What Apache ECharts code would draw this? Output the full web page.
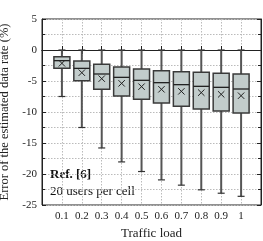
<!DOCTYPE html>
<html><head><meta charset="utf-8">
<script src="https://cdn.jsdelivr.net/npm/echarts@6/dist/echarts.min.js"></script>
<style>html,body{margin:0;padding:0;background:#fff}#c{width:263px;height:241px}</style>
</head><body><div id="c"></div>
<script>
const loads = ['0.1','0.2','0.3','0.4','0.5','0.6','0.7','0.8','0.9','1'];
const whiskerLow = [-7.5,-12.5,-15.8,-18.05,-19.6,-20.95,-21.8,-22.55,-23.1,-23.6];
const q1 = [-2.96,-4.95,-6.34,-7.42,-7.96,-8.55,-9.08,-9.52,-9.84,-10.16];
const median = [-1.72,-2.96,-3.87,-4.41,-4.89,-5.27,-5.59,-5.86,-6.02,-6.29];
const q3 = [-1.08,-1.77,-2.31,-2.74,-3.06,-3.33,-3.49,-3.6,-3.76,-3.87];
const whiskerHigh = [0,0,0,0,0,0,0,0,0,0];
const mean = [-2.15,-3.66,-4.62,-5.38,-5.91,-6.34,-6.67,-6.88,-7.15,-7.37];
const yTicks = [5,0,-5,-10,-15,-20,-25];

const categories = ['0'].concat(loads, ['1.1']);
const data = loads.map((l,i)=>[i+1, whiskerLow[i], q1[i], median[i], q3[i], whiskerHigh[i], mean[i]]);
const serif = 'Liberation Serif';
const grid = {left:42, right:2, top:19, bottom:36, show:true, borderColor:'#222', borderWidth:1, containLabel:false, outerBoundsMode:'none'};

const chart = echarts.init(document.getElementById('c'));
chart.setOption({
  animation:false,
  grid: grid,
  xAxis: [{
    type:'category', data:categories, boundaryGap:false,
    name:'Traffic load', nameLocation:'middle', nameGap:22,
    nameTextStyle:{fontFamily:serif, fontSize:13, color:'#222'},
    axisLine:{lineStyle:{color:'#222'}},
    axisTick:{inside:true, length:4, interval:0, lineStyle:{color:'#222'}},
    axisLabel:{interval:0, fontFamily:serif, fontSize:11, color:'#222', margin:6,
      formatter:(v,i)=> (i===0||i===categories.length-1)?'':v},
    splitLine:{show:true, interval:0, lineStyle:{color:'#bbb', type:[1.5,1.5], width:1}}
  },{
    type:'category', data:categories, boundaryGap:false, position:'top',
    axisLine:{lineStyle:{color:'#222'}},
    axisTick:{inside:true, length:4, interval:0, lineStyle:{color:'#222'}},
    axisLabel:{show:false}, splitLine:{show:false}
  }],
  yAxis: [{
    type:'value', min:-25, max:5, interval:5,
    name:'Error of the estimated data rate (%)', nameLocation:'middle', nameGap:29,
    nameTextStyle:{fontFamily:serif, fontSize:12.5, color:'#222'},
    axisLine:{show:true, lineStyle:{color:'#222'}},
    axisTick:{show:true, inside:true, length:4, lineStyle:{color:'#222'}},
    minorTick:{show:true, splitNumber:2, length:3, lineStyle:{color:'#222'}},
    axisLabel:{fontFamily:serif, fontSize:11, color:'#222', margin:5,
      formatter:v=> yTicks.indexOf(v)>=0 ? String(v) : ''},
    splitLine:{show:true, lineStyle:{color:'#bbb', type:[1.5,1.5], width:1}},
    minorSplitLine:{show:true, lineStyle:{color:'#bbb', type:[1.5,1.5], width:1}}
  },{
    type:'value', min:-25, max:5, interval:5, position:'right',
    axisLine:{show:true, lineStyle:{color:'#222'}},
    axisTick:{show:true, inside:true, length:4, lineStyle:{color:'#222'}},
    minorTick:{show:true, splitNumber:2, length:3, lineStyle:{color:'#222'}},
    axisLabel:{show:false}, splitLine:{show:false}
  }],
  series: [{
    type:'custom', xAxisIndex:0, yAxisIndex:0, data:data,
    encode:{x:0, y:[1,2,3,4,5,6]},
    renderItem:(params, api)=>{
      const x = api.value(0);
      const pLow = api.coord([x, api.value(1)]);
      const pQ1 = api.coord([x, api.value(2)]);
      const pMed = api.coord([x, api.value(3)]);
      const pQ3 = api.coord([x, api.value(4)]);
      const pHigh = api.coord([x, api.value(5)]);
      const pMean = api.coord([x, api.value(6)]);
      const cx = pMed[0], hw = 8, cap = 3.5, xs = 3.2;
      const wStyle = {stroke:'#555', lineWidth:2};
      return {type:'group', children:[
        {type:'line', shape:{x1:cx,y1:pHigh[1],x2:cx,y2:pLow[1]}, style:wStyle},
        {type:'line', shape:{x1:cx-cap,y1:pHigh[1],x2:cx+cap,y2:pHigh[1]}, style:{stroke:'#333',lineWidth:1.2}},
        {type:'line', shape:{x1:cx-cap,y1:pLow[1],x2:cx+cap,y2:pLow[1]}, style:{stroke:'#333',lineWidth:1.2}},
        {type:'rect', shape:{x:cx-hw, y:pQ3[1], width:2*hw, height:pQ1[1]-pQ3[1]},
          style:{fill:'#c2cccb', stroke:'#3a3a3a', lineWidth:1.5}},
        {type:'line', shape:{x1:cx-hw,y1:pMed[1],x2:cx+hw,y2:pMed[1]}, style:{stroke:'#222',lineWidth:1.3}},
        {type:'line', shape:{x1:cx-xs,y1:pMean[1]-xs,x2:cx+xs,y2:pMean[1]+xs}, style:{stroke:'#222',lineWidth:1}},
        {type:'line', shape:{x1:cx-xs,y1:pMean[1]+xs,x2:cx+xs,y2:pMean[1]-xs}, style:{stroke:'#222',lineWidth:1}}
      ]};
    }
  }],
  graphic: [
    {type:'text', left:50, top:168, style:{text:'Ref. [6]', fontFamily:serif, fontSize:13, fontWeight:'bold', fill:'#111'}},
    {type:'text', left:50, top:185, style:{text:'20 users per cell', fontFamily:serif, fontSize:13, fill:'#111'}}
  ]
});
</script></body></html>
